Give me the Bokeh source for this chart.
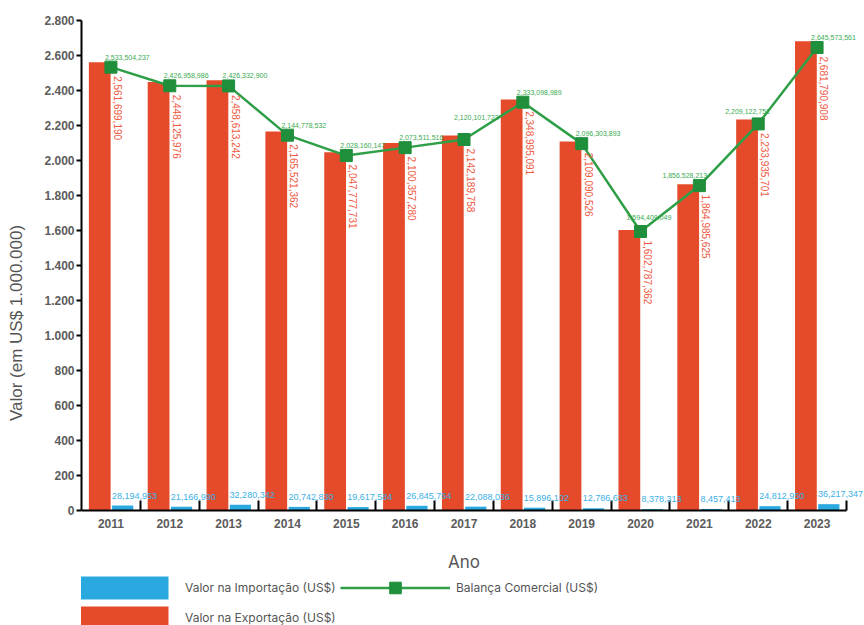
import math
import numpy as np
from bokeh.plotting import figure
from bokeh.models import (ColumnDataSource, FixedTicker, Legend, LegendItem, Range1d,
                          LabelSet)
from bokeh.core.properties import value
from bokeh.embed import file_html
from bokeh.resources import INLINE

# ---- data (US$) ----
years = ["2011", "2012", "2013", "2014", "2015", "2016", "2017",
         "2018", "2019", "2020", "2021", "2022", "2023"]
exports_usd = [2561699190, 2448125976, 2458613242, 2165521362, 2047777731,
               2100357280, 2142189758, 2348995091, 2109090526, 1602787362,
               1864985625, 2233935701, 2681790908]
imports_usd = [28194953, 21166990, 32280342, 20742830, 19617584,
               26845764, 22088036, 15896102, 12786633, 8378313,
               8457413, 24812950, 36217347]
balance_usd = [2533504237, 2426958986, 2426332900, 2144778532, 2028160147,
               2073511516, 2120101722, 2333098989, 2096303893, 1594409049,
               1856528213, 2209122751, 2645573561]
y_ticks = list(range(0, 2801, 200))

# label nudges (pixels) for the balance labels
bal_dx = [-6, -6, -6, -6, -6, -6, -10, -6, -6, -14, -37, -33, -6]
bal_dy = [10, 10, 10, 10, 10, 10, 22, 10, 10, 14, 10, 12, 10]

idx = np.arange(len(years))
src = ColumnDataSource(dict(
    xc=idx,
    x_exp=idx - 0.19,
    x_imp=idx + 0.20,
    exp=np.array(exports_usd) / 1e6,
    imp=np.array(imports_usd) / 1e6,
    bal=np.array(balance_usd) / 1e6,
    exp_lbl=[f"{v:,}" for v in exports_usd],
    imp_lbl=[f"{v:,}" for v in imports_usd],
    bal_lbl=[f"{v:,}" for v in balance_usd],
    bal_dx=bal_dx,
    bal_dy=bal_dy,
))

RED = "#e54b2b"
BLUE = "#2aa9e1"
GREEN_LINE = "#2e9e47"
GREEN_MARK = "#1f8f3c"
GRAY = "#5c5c5c"
FONT = "Liberation Sans"

# frame: data area 490 px tall (0..2800), 115 px below it for axis texts + legend;
# 765 px for the 13 years plus 18 px on the right for overhanging labels
Y_MAX = 2800
Y_MIN = -Y_MAX * 115 / 490
X_MIN, X_AXIS_END = -0.5, len(years) - 0.5
X_MAX = X_MIN + (X_AXIS_END - X_MIN) * 783 / 765

p = figure(frame_width=783, frame_height=605, x_range=Range1d(X_MIN, X_MAX),
           y_range=Range1d(Y_MIN, Y_MAX),
           output_backend="svg", toolbar_location=None,
           min_border_left=81, min_border_right=0, min_border_top=20, min_border_bottom=0,
           outline_line_color=None, background_fill_color="white")
p.xgrid.visible = False
p.ygrid.visible = False

r_exp = p.vbar(x="x_exp", top="exp", width=0.37, source=src, fill_color=RED, line_color=None)
r_imp = p.vbar(x="x_imp", top="imp", width=0.36, source=src, fill_color=BLUE, line_color=None)
r_line = p.line("xc", "bal", source=src, line_color=GREEN_LINE, line_width=2.5)
r_mark = p.scatter("xc", "bal", source=src, marker="square", size=12,
                   fill_color=GREEN_MARK, line_color=GREEN_MARK)

# labels
p.add_layout(LabelSet(x="xc", y="bal", text="bal_lbl", source=src, text_font=value(FONT),
                      text_font_size="7px", text_color="#3aab52", text_align="left",
                      text_baseline="middle", x_offset="bal_dx", y_offset="bal_dy"))
p.add_layout(LabelSet(x="xc", y="bal", text="exp_lbl", source=src, text_font=value(FONT),
                      text_font_size="10px", text_color="#ef5a43", text_align="left",
                      text_baseline="alphabetic", angle=-math.pi / 2,
                      x_offset=3, y_offset=-9))
p.add_layout(LabelSet(x="xc", y="imp", text="imp_lbl", source=src, text_font=value(FONT),
                      text_font_size="9px", text_color="#3cb0e6", text_align="left",
                      text_baseline="middle", x_offset=1, y_offset=10))

# x axis, fixed at y = 0
xa = p.xaxis[0]
xa.fixed_location = 0
xa.bounds = (X_MIN, X_AXIS_END)
xa.ticker = FixedTicker(ticks=list(int(i) for i in idx),
                        minor_ticks=[float(i) + 0.5 for i in idx])
xa.major_label_overrides = {int(i): y for i, y in zip(idx, years)}
xa.major_tick_in = 0
xa.major_tick_out = 0
xa.minor_tick_in = 10
xa.minor_tick_out = 0
xa.minor_tick_line_color = "black"
xa.minor_tick_line_width = 2
xa.axis_line_color = "black"
xa.axis_line_width = 2
xa.major_label_standoff = 8
xa.major_label_text_font = FONT
xa.major_label_text_font_style = "bold"
xa.major_label_text_font_size = "12px"
xa.major_label_text_color = GRAY
xa.axis_label = "Ano"
xa.axis_label_text_font = "Inter"
xa.axis_label_text_font_style = "normal"
xa.axis_label_text_font_size = "17px"
xa.axis_label_text_color = "#555555"
xa.axis_label_standoff = 21

# y axis
ya = p.yaxis[0]
ya.bounds = (0, Y_MAX)
ya.ticker = FixedTicker(ticks=y_ticks)
ya.major_label_overrides = {t: f"{t:,}".replace(",", ".") for t in y_ticks}
ya.major_tick_in = 0
ya.major_tick_out = 5
ya.major_tick_line_width = 2
ya.minor_tick_in = 0
ya.minor_tick_out = 0
ya.axis_line_color = "black"
ya.axis_line_width = 2
ya.major_label_standoff = 2
ya.major_label_text_font = FONT
ya.major_label_text_font_style = "bold"
ya.major_label_text_font_size = "12px"
ya.major_label_text_color = GRAY
ya.axis_label = "Valor (em US$ 1.000.000)"
ya.axis_label_text_font = FONT
ya.axis_label_text_font_style = "normal"
ya.axis_label_text_font_size = "17px"
ya.axis_label_text_color = "#555555"
ya.axis_label_standoff = 15

legend = Legend(items=[
    LegendItem(label="Valor na Importação (US$)", renderers=[r_imp]),
    LegendItem(label="Balança Comercial (US$)", renderers=[r_line, r_mark]),
    LegendItem(label="Valor na Exportação (US$)", renderers=[r_exp]),
], orientation="horizontal", ncols=2, location=(-12, -7),
   glyph_width=110, glyph_height=29, label_standoff=6, spacing=1,
   padding=0, margin=0, border_line_color=None, background_fill_alpha=0,
   label_text_font="Inter", label_text_font_size="12px",
   label_text_color="#555555", label_width=154)
p.add_layout(legend, "center")

open("out.html", "w").write(file_html(p, INLINE))
